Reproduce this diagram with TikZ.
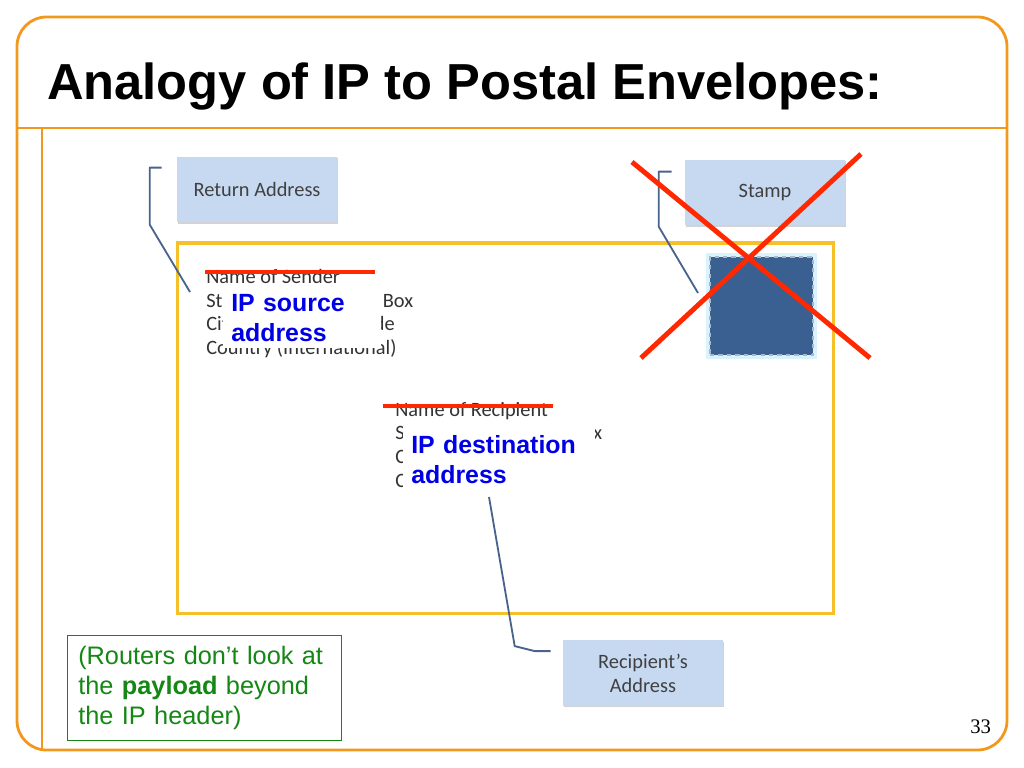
\documentclass[tikz,border=0pt]{standalone}
\usepackage{fontspec}
\setmainfont{Liberation Sans}
\newfontfamily\calfont{Carlito}
\newfontfamily\serfont{Liberation Serif}
\usepackage{xcolor}
\usetikzlibrary{shadows}
\definecolor{frameorange}{RGB}{243,152,30}
\definecolor{calloutblue}{RGB}{198,217,240}
\definecolor{leadblue}{RGB}{72,100,140}
\definecolor{envgold}{RGB}{245,192,40}
\definecolor{stampblue}{RGB}{58,96,146}
\definecolor{strikered}{RGB}{255,40,0}
\definecolor{labelblue}{RGB}{0,0,230}
\definecolor{notegreen}{RGB}{20,135,20}
\tikzset{
  callout/.style={
    rectangle, fill=calloutblue,
    minimum width=4cm, minimum height=1.63cm,
    align=center, text=black!75,
    font=\calfont\fontsize{14.5}{17}\selectfont,
    drop shadow={shadow xshift=1pt, shadow yshift=-1pt, opacity=0.35}
  },
  addr/.style  = {anchor=north west, align=left, inner sep=0pt, text=black!80,
                  font=\calfont\fontsize{14.5}{16.8}\selectfont},
  cover/.style = {anchor=north west, fill=white, text=labelblue, align=left,
                  inner xsep=0.2cm,
                  font=\bfseries\fontsize{17.7}{21.3}\selectfont},
  lead/.style  = {draw=leadblue, line width=1.3pt, line join=round},
  strike/.style= {draw=strikered, line width=3.5pt},
  frame/.style = {draw=frameorange, line width=2pt},
}

\begin{document}
\begin{tikzpicture}[x=0.025cm, y=-0.025cm]
  \useasboundingbox (0,0) rectangle (1024,768);

  % Slide frame
  \draw[frame, rounded corners=21pt] (17,17) rectangle (1007,750);
  \draw[frame] (17,128) -- (1007,128);
  \draw[frame] (42,128) -- (42,750);
  \node[anchor=base west, inner sep=0pt, font=\bfseries\fontsize{36}{40}\selectfont] (title) at (47,100) {Analogy of IP to Postal Envelopes:};

  % Envelope and stamp
  \node[draw=envgold, fill=white, line width=2.2pt, minimum width=16.375cm, minimum height=9.25cm,
        drop shadow={shadow xshift=1pt, shadow yshift=-1pt, opacity=0.3}] (envelope) at (505.5,428) {};
  \node[fill=stampblue, draw=stampblue!45!white, dashed, line width=0.8pt,
        preaction={draw=cyan!15, line width=5pt, solid},
        minimum width=2.575cm, minimum height=2.45cm] (stamp) at (761.5,306) {};

  % Addresses
  \node[addr] (sender) at (206,269) {Name of Sender\\Street Address or PO Box\\City, State, Postal Code\\Country (International)};
  \node[addr] (recipient) at (395,402) {Name of Recipient\\Street Address or PO Box\\City, State, Postal Code\\Country (International)};
  \draw[strike] (205,272) -- (375,272);
  \draw[strike] (383,406) -- (553,406);

  % IP labels
  \node[cover, text width=3.55cm, inner ysep=4.5pt] (srclbl) at (223,288) {IP source\\address};
  \node[cover, text width=4.4cm, inner ysep=9.5pt] (dstlbl) at (403,422) {IP destination\\address};

  % Callouts
  \node[callout] (retbox) at (257,189.5) {Return Address};
  \node[callout] (stampbox) at (765,192.5) {Stamp};
  \node[callout] (recbox) at (643,673) {Recipient’s\\Address};

  % Leader lines
  \coordinate (sndtip) at (190,292);
  \coordinate (stamptip) at (698,293);
  \coordinate (rcptip) at (489,497);
  \draw[lead] (retbox.north west) ++(-15,11) -- ++(-12,0) -- ++(0,57) -- (sndtip);
  \draw[lead] (stampbox.north west) ++(-13,12) -- ++(-13,0) -- ++(0,55) -- (stamptip);
  \draw[lead] (recbox.north west) ++(-12,11) -- ++(-16,0) -- ++(-20,-5) -- (rcptip);

  % Cross over the stamp
  \draw[strike] (632,162) -- (870,358);
  \draw[strike] (861,154) -- (641,358);

  % Note
  \node[draw=notegreen, text=notegreen, anchor=north west, align=left,
        minimum width=6.85cm, minimum height=2.625cm, text width=6.3cm, inner xsep=0.275cm,
        font=\fontsize{18}{21.3}\selectfont] (note) at (67,635)
        {\rule{0pt}{4pt}(Routers don’t look at\\the \textbf{payload} beyond\\the IP header)};

  % Page number
  \node[anchor=base west, inner sep=0pt, font=\serfont\fontsize{14.7}{17}\selectfont] (pgnum) at (970,733) {33};
\end{tikzpicture}
\end{document}
